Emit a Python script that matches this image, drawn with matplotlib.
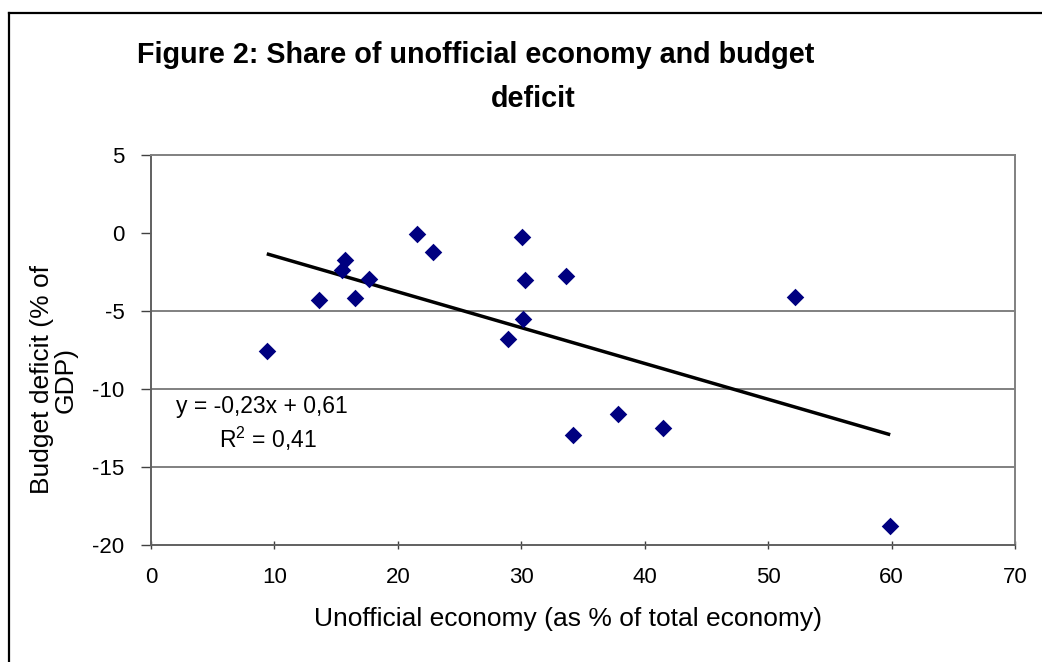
import numpy as np
import matplotlib
matplotlib.use("Agg")
import matplotlib.pyplot as plt
from matplotlib.lines import Line2D

# ---- data ----
unofficial = [9.38, 13.59, 15.68, 15.51, 16.54, 17.65, 21.54, 22.84, 30.05, 30.30,
              33.65, 30.16, 28.90, 34.19, 37.80, 41.48, 52.19, 59.89]
deficit = [-7.59, -4.31, -1.70, -2.39, -4.19, -2.97, -0.05, -1.19, -0.27, -2.99,
           -2.75, -5.53, -6.82, -12.96, -11.60, -12.48, -4.08, -18.76]
x_ticks = [0, 10, 20, 30, 40, 50, 60, 70]
y_ticks = [5, 0, -5, -10, -15, -20]
grid_levels = [-5, -10, -15]

title_line1 = "Figure 2: Share of unofficial economy and budget"
title_line2 = "deficit"
xlabel = "Unofficial economy (as % of total economy)"
ylabel = "Budget deficit (% of\nGDP)"
eq_text = "y = -0,23x + 0,61"
r2_text = "R$^2$ = 0,41"

plt.rcParams['font.family'] = ['Liberation Sans', 'DejaVu Sans']
plt.rcParams['axes.unicode_minus'] = False
plt.rcParams['mathtext.fontset'] = 'custom'
plt.rcParams['mathtext.rm'] = 'Liberation Sans'

W, H = 1042, 662
fig = plt.figure(figsize=(W / 100, H / 100), dpi=100)
fig.patch.set_facecolor('white')

def fx(px):
    return px / W

def fy(py):
    return 1 - py / H

# outer chart border (left & top visible)
fig.add_artist(Line2D([fx(9), fx(9)], [0, fy(13)], transform=fig.transFigure,
                      color='black', lw=1.6))
fig.add_artist(Line2D([fx(9), 1], [fy(13), fy(13)], transform=fig.transFigure,
                      color='black', lw=1.6))

left, right, top, bottom = 151, 1015, 155, 545
ax = fig.add_axes([fx(left), fy(bottom), (right - left) / W, (bottom - top) / H])
ax.set_xlim(0, 70)
ax.set_ylim(-20, 5)

for lv in grid_levels:
    ax.axhline(lv, color='#808080', lw=1.4, zorder=1)

for side in ['top', 'right']:
    ax.spines[side].set_color('#808080')
    ax.spines[side].set_linewidth(1.4)
for side in ['left', 'bottom']:
    ax.spines[side].set_color('#606060')
    ax.spines[side].set_linewidth(1.4)

ax.set_xticks(x_ticks)
ax.set_yticks(y_ticks)
ax.tick_params(axis='x', direction='inout', length=6, width=1, color='#404040',
               labelsize=16, pad=12.5)
ax.tick_params(axis='y', direction='out', length=7, width=1, color='#404040',
               labelsize=16, pad=12)

ax.scatter(unofficial, deficit, marker='D', s=80, color='#000080', zorder=3,
           linewidths=0)

# linear trendline
coef = np.polyfit(unofficial, deficit, 1)
xs = np.array([min(unofficial), max(unofficial)])
ax.plot(xs, np.polyval(coef, xs), color='black', lw=2.5, zorder=2,
        solid_capstyle='butt')

fig.text(fx(176), fy(413), eq_text, fontsize=16.5, ha='left', va='baseline')
fig.text(fx(219), fy(448), r2_text, fontsize=16.5, ha='left', va='baseline')

fig.text(fx(568), fy(626), xlabel, fontsize=19, ha='center', va='baseline')
fig.text(fx(54), fy(380), ylabel, fontsize=19, ha='center', va='center',
         rotation=90, multialignment='center', linespacing=1.0)

fig.text(fx(137), fy(63), title_line1, fontsize=20.7, fontweight='bold',
         ha='left', va='baseline')
fig.text(fx(533), fy(107), title_line2, fontsize=20.7, fontweight='bold',
         ha='center', va='baseline')

fig.savefig('out.png', dpi=100, facecolor='white')
